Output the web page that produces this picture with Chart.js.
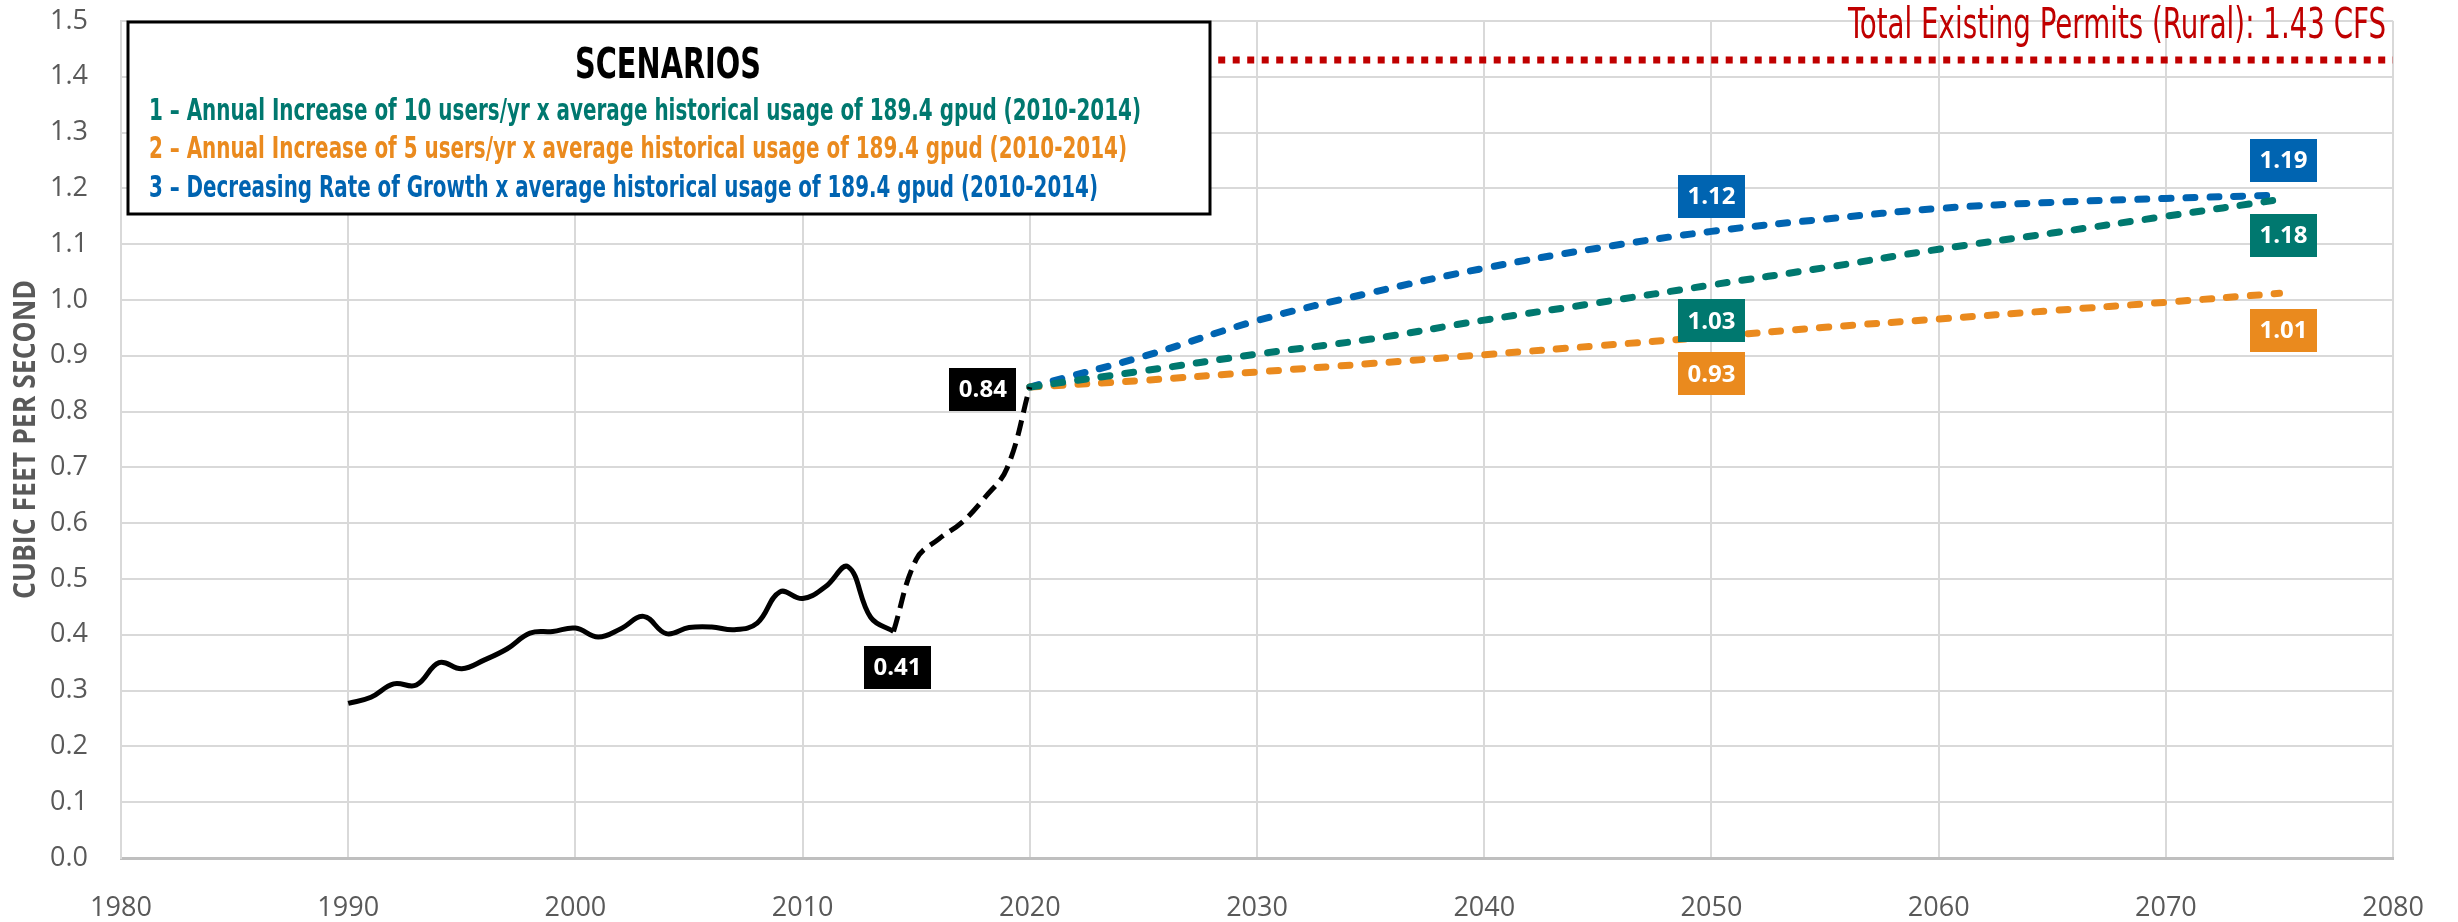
<!DOCTYPE html>
<html>
<head>
<meta charset="utf-8">
<script src="https://cdn.jsdelivr.net/npm/chart.js@4.4.0/dist/chart.umd.min.js"></script>
<style>
  body { margin: 0; background: #fff; }
  #wrap { width: 2458px; height: 922px; }
</style>
</head>
<body>
<div id="wrap"><canvas id="lineChart" width="2458" height="922"></canvas></div>
<script>
// historical use 1990-2014
var histYears = [1990,1991,1992,1993,1994,1995,1996,1997,1998,1999,2000,2001,2002,2003,2004,2005,2006,2007,2008,2009,2010,2011,2012,2013,2014];
var histValues = [0.277,0.288,0.312,0.310,0.350,0.339,0.355,0.375,0.403,0.406,0.412,0.396,0.411,0.433,0.402,0.413,0.414,0.409,0.421,0.477,0.465,0.486,0.522,0.431,0.406];

// estimated 2014-2020
var projYears = [2014,2015,2016,2017,2018,2019,2020];
var projValues = [0.406,0.535,0.572,0.601,0.645,0.699,0.844];

// scenarios 2020-2075
var scenYears = [2020,2025,2030,2035,2040,2045,2050,2055,2060,2065,2070,2075];
var scen1Values = [0.844,0.873,0.903,0.930,0.964,0.995,1.027,1.058,1.091,1.120,1.150,1.180];
var scen2Values = [0.844,0.856,0.871,0.886,0.902,0.918,0.934,0.951,0.966,0.981,0.996,1.012];
var scen3Values = [0.844,0.899,0.963,1.013,1.057,1.093,1.123,1.145,1.164,1.175,1.182,1.188];

var permitYears = [1990,2080];
var permitValue = 1.43;

var scenarioNames = [
  '1 \u2013 Annual Increase of 10 users/yr x average historical usage of 189.4 gpud (2010-2014)',
  '2 \u2013 Annual Increase of 5 users/yr x average historical usage of 189.4 gpud (2010-2014)',
  '3 \u2013 Decreasing Rate of Growth x average historical usage of 189.4 gpud (2010-2014)'
];
var permitText = 'Total Existing Permits (Rural): 1.43 CFS';
var yTitle = 'CUBIC FEET PER SECOND';

var teal = '#00786F', orange = '#EA8A1E', blue = '#0064B1', red = '#C00000';
var narrow = '"Liberation Sans Narrow", "DejaVu Sans Condensed", "Liberation Sans", sans-serif';

// which points get a value box, and where
var valueLabels = [
  {set: 0, year: 2014, place: 'below'},
  {set: 1, year: 2020, place: 'left'},
  {set: 4, year: 2050, place: 'above'},
  {set: 2, year: 2050, place: 'below'},
  {set: 3, year: 2050, place: 'below2'},
  {set: 4, year: 2075, place: 'above'},
  {set: 2, year: 2075, place: 'below'},
  {set: 3, year: 2075, place: 'below2'}
];

function toPoints(xs, ys) {
  return xs.map((x, i) => ({x: x, y: Array.isArray(ys) ? ys[i] : ys}));
}

var valueBoxes = {
  id: 'valueBoxes',
  afterDatasetsDraw(chart) {
    var ctx = chart.ctx;
    ctx.save();
    ctx.font = 'bold 24px "Open Sans", sans-serif';
    ctx.textAlign = 'center';
    ctx.textBaseline = 'middle';
    valueLabels.forEach(l => {
      var ds = chart.data.datasets[l.set];
      var pt = ds.data.find(p => p.x === l.year);
      var x = chart.scales.x.getPixelForValue(pt.x);
      var y = chart.scales.y.getPixelForValue(pt.y);
      if (l.place === 'above') y -= 35;
      if (l.place === 'below') y += 36;
      if (l.place === 'below2') y += 37;
      if (l.place === 'left') { x -= 47; y += 2; }
      if (l.year === 2075) x += 4;
      if (l.year === 2014) x += 4;
      var txt = pt.y.toFixed(2);
      var w = 67, h = 43;
      ctx.fillStyle = ds.boxColor;
      ctx.fillRect(Math.round(x - w / 2), Math.round(y - h / 2), w, h);
      ctx.fillStyle = '#fff';
      ctx.fillText(txt, x, y + 1, 52);
    });
    ctx.restore();
  }
};

var decor = {
  id: 'decor',
  afterDraw(chart) {
    var ctx = chart.ctx;
    var area = chart.chartArea;
    ctx.save();

    // y axis title
    ctx.save();
    ctx.translate(35, (area.top + area.bottom) / 2);
    ctx.rotate(-Math.PI / 2);
    ctx.font = 'bold 30px "Open Sans", sans-serif';
    ctx.fillStyle = '#595959';
    ctx.textAlign = 'center';
    ctx.textBaseline = 'alphabetic';
    ctx.fillText(yTitle, 0, 0, 319);
    ctx.restore();

    // scenarios box
    var bx = area.left + 7, by = area.top + 1, bw = 1082, bh = 192;
    ctx.fillStyle = '#fff';
    ctx.fillRect(bx, by, bw, bh);
    ctx.strokeStyle = '#000';
    ctx.lineWidth = 3;
    ctx.strokeRect(bx, by, bw, bh);

    ctx.textBaseline = 'alphabetic';
    ctx.textAlign = 'center';
    ctx.fillStyle = '#000';
    ctx.font = 'bold 42px ' + narrow;
    ctx.fillText('SCENARIOS', bx + 540, by + 56, 186);

    ctx.textAlign = 'left';
    ctx.font = 'bold 30px ' + narrow;
    var cols = [teal, orange, blue];
    var widths = [992, 978, 949];
    var bases = [98, 136, 175];
    scenarioNames.forEach((s, i) => {
      ctx.fillStyle = cols[i];
      ctx.fillText(s, bx + 21, by + bases[i], widths[i]);
    });

    // permit label
    ctx.textAlign = 'right';
    ctx.fillStyle = red;
    ctx.font = '42px ' + narrow;
    ctx.fillText(permitText, area.right - 7, 38, 538);
    ctx.restore();
  }
};

var ctxL = document.getElementById('lineChart').getContext('2d');
var myChart = new Chart(ctxL, {
  type: 'line',
  data: {
    datasets: [
      {data: toPoints(histYears, histValues), borderColor: '#000', boxColor: '#000', borderWidth: 5, tension: 0.4},
      {data: toPoints(projYears, projValues), borderColor: '#000', boxColor: '#000', borderWidth: 5, tension: 0.4, borderDash: [16, 8]},
      {data: toPoints(scenYears, scen1Values), borderColor: teal, boxColor: teal, borderWidth: 7, tension: 0.4, borderDash: [9, 15], borderCapStyle: 'round'},
      {data: toPoints(scenYears, scen2Values), borderColor: orange, boxColor: orange, borderWidth: 7, tension: 0.4, borderDash: [9, 15], borderCapStyle: 'round'},
      {data: toPoints(scenYears, scen3Values), borderColor: blue, boxColor: blue, borderWidth: 7, tension: 0.4, borderDash: [9, 15], borderCapStyle: 'round'},
      {data: toPoints(permitYears, permitValue), borderColor: red, boxColor: red, borderWidth: 7, borderDash: [7, 7.5]}
    ]
  },
  options: {
    responsive: false,
    animation: false,
    devicePixelRatio: 1,
    layout: {padding: {left: 50, top: 21, right: 57, bottom: 0}},
    elements: {point: {radius: 0}, line: {borderJoinStyle: 'round'}},
    plugins: {legend: {display: false}, tooltip: {enabled: false}},
    scales: {
      x: {
        type: 'linear',
        min: 1980, max: 2080,
        afterFit: s => { s.height = 64; },
        grid: {color: '#D9D9D9', lineWidth: 2, drawTicks: false},
        border: {color: '#BFBFBF', width: 3},
        ticks: {stepSize: 10, autoSkip: false, maxRotation: 0, padding: 34, color: '#595959',
          font: {family: '"Open Sans", sans-serif', size: 27}, callback: v => String(v)}
      },
      y: {
        min: 0, max: 1.5,
        afterFit: s => { s.width = 71; },
        grid: {color: '#D9D9D9', lineWidth: 2, drawTicks: false},
        border: {color: '#D9D9D9', width: 2},
        ticks: {stepSize: 0.1, padding: 2, crossAlign: 'far', color: '#595959',
          font: {family: '"Open Sans", sans-serif', size: 27}, callback: v => v.toFixed(1)}
      }
    }
  },
  plugins: [valueBoxes, decor]
});
</script>
</body>
</html>
